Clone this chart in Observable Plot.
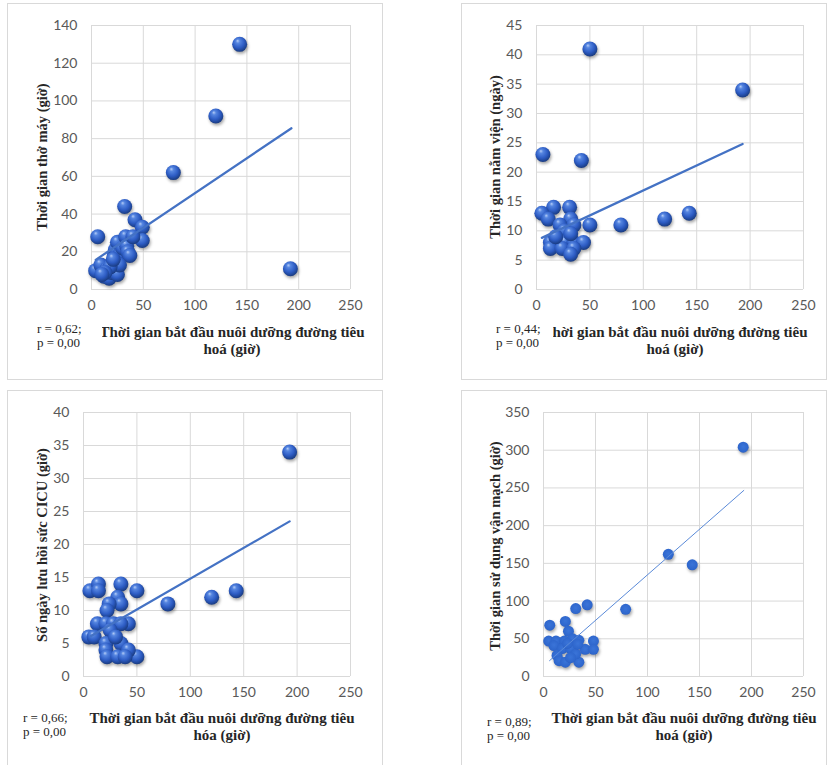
<!DOCTYPE html>
<html>
<head>
<meta charset="utf-8">
<script src="https://cdn.jsdelivr.net/npm/d3@7"></script>
<script src="https://cdn.jsdelivr.net/npm/@observablehq/plot@0.6"></script>
<style>
  html, body { margin: 0; padding: 0; background: #fff; }
  #page { position: relative; width: 829px; height: 765px; overflow: hidden; background: #fff; }
  .frame { position: absolute; border: 1px solid #d9d9d9; box-sizing: border-box; }
  .plotbox { position: absolute; }
  .xtitle { position: absolute; width: 340px; text-align: center; font-family: "Liberation Serif", "Times New Roman", serif; font-weight: bold; font-size: 15px; line-height: 17px; color: #262626; white-space: nowrap; }
  .ytitle { position: absolute; transform: translate(-50%, -50%) rotate(-90deg); font-family: "Liberation Serif", "Times New Roman", serif; font-weight: bold; font-size: 14.5px; color: #262626; white-space: nowrap; }
  .rp { position: absolute; background: #fff; font-family: "Liberation Serif", "Times New Roman", serif; font-size: 13px; line-height: 14px; color: #262626; white-space: nowrap; overflow: hidden; }
</style>
</head>
<body>
<svg width="0" height="0" style="position:absolute">
  <defs>
    <radialGradient id="sphere" cx="0.45" cy="0.4" r="0.62" fx="0.36" fy="0.26">
      <stop offset="0" stop-color="#b4ccf7"/>
      <stop offset="0.22" stop-color="#5585e0"/>
      <stop offset="0.62" stop-color="#2d5cc4"/>
      <stop offset="0.9" stop-color="#1d428f"/>
      <stop offset="1" stop-color="#18377a"/>
    </radialGradient>
    <radialGradient id="flat" cx="0.5" cy="0.45" r="0.6">
      <stop offset="0" stop-color="#3a74d8"/>
      <stop offset="0.8" stop-color="#2e66cc"/>
      <stop offset="1" stop-color="#2858b5"/>
    </radialGradient>
  </defs>
</svg>
<div id="page"></div>
<script>
// ---------- data ----------
const xTicks = [0, 50, 100, 150, 200, 250];

// Panel 1: Thời gian thở máy (giờ)
const p1X = [4, 6, 9, 12, 15, 17, 19, 20, 22, 23, 25, 25, 28, 30, 32, 33, 34, 35, 37, 42, 49, 49, 79, 120, 143, 192, 27, 18, 13, 40, 10, 21];
const p1Y = [10, 28, 13, 7, 11, 6, 9, 14, 18, 21, 8, 25, 19, 22, 44, 28, 23, 20, 18, 37, 33, 26, 62, 92, 130, 11, 13, 12, 9, 28, 8, 16];
const p1TrendX = [4, 193];
const p1TrendY = [15.7, 85.5];
const p1YTicks = [0, 20, 40, 60, 80, 100, 120, 140];

// Panel 2: Thời gian nằm viện (ngày)
const p2X = [6, 42, 50, 79, 120, 143, 193, 16, 31, 5, 11, 32, 22, 35, 50, 26, 13, 19, 27, 35, 44, 13, 24, 35, 32, 18, 32];
const p2Y = [23, 22, 41, 11, 12, 13, 34, 14, 14, 13, 12, 12, 11, 11, 11, 10, 8, 8, 8, 8, 8, 7, 7, 7, 6, 9, 9.5];
const p2TrendX = [5, 193];
const p2TrendY = [8.8, 24.8];
const p2YTicks = [0, 5, 10, 15, 20, 25, 30, 35, 40, 45];

// Panel 3: Số ngày lưu hồi sức CICU
const p3X = [193, 143, 120, 79, 50, 50, 6, 14, 14, 35, 32, 35, 24, 22, 13, 21, 28, 42, 35, 25, 5, 10, 21, 35, 21, 42, 22, 32, 39, 30];
const p3Y = [34, 13, 12, 11, 13, 3, 13, 14, 13, 14, 12, 11, 11, 10, 8, 8, 8, 8, 8, 7, 6, 6, 5, 5, 4, 4, 3, 3, 3, 6];
const p3TrendX = [6.6, 193];
const p3TrendY = [6.1, 23.5];
const p3YTicks = [0, 5, 10, 15, 20, 25, 30, 35, 40];

// Panel 4: Thời gian sử dụng vận mạch (giờ)
const p4X = [192, 120, 143, 79, 42, 31, 6, 21, 24, 5, 12, 20, 28, 34, 48, 10, 40, 48, 18, 26, 13, 15, 21, 34, 31, 26, 23, 33];
const p4Y = [304, 162, 148, 89, 95, 90, 68, 73, 60, 47, 47, 47, 50, 48, 47, 41, 36, 36, 37, 37, 28, 21, 19, 19, 30, 25, 44, 43];
const p4TrendX = [5.8, 192.6];
const p4TrendY = [21, 246.7];
const p4YTicks = [0, 50, 100, 150, 200, 250, 300, 350];

const xTitle1 = "Thời gian bắt đầu nuôi dưỡng đường tiêu";
const panels = [
  { frame: [7, 3, 376, 377], plot: [91, 25, 350, 289], xs: p1X, ys: p1Y, tx: p1TrendX, ty: p1TrendY, yTicks: p1YTicks,
    ytitle: "Thời gian thở máy (giờ)", yc: [42, 157], xt2: "hoá (giờ)", xc: [232, 332],
    r: "r = 0,62;", p: "p = 0,00", rp: [37, 322, 65], flat: false },
  { frame: [461, 3, 366, 377], plot: [536, 25, 803, 289], xs: p2X, ys: p2Y, tx: p2TrendX, ty: p2TrendY, yTicks: p2YTicks,
    ytitle: "Thời gian nằm viện (ngày)", yc: [495, 157], xt2: "hoá (giờ)", xc: [675, 332],
    r: "r = 0,44;", p: "p = 0,00", rp: [496, 322, 57], flat: false },
  { frame: [7, 390, 376, 380], plot: [83, 412, 350, 676], xs: p3X, ys: p3Y, tx: p3TrendX, ty: p3TrendY, yTicks: p3YTicks,
    ytitle: "Số ngày lưu hồi sức CICU (giờ)", yc: [42, 545], xt2: "hóa (giờ)", xc: [222, 718],
    r: "r = 0,66;", p: "p = 0,00", rp: [23, 711, 50], flat: false },
  { frame: [461, 390, 366, 380], plot: [543, 412, 803, 676], xs: p4X, ys: p4Y, tx: p4TrendX, ty: p4TrendY, yTicks: p4YTicks,
    ytitle: "Thời gian sử dụng vận mạch (giờ)", yc: [495, 546], xt2: "hoá (giờ)", xc: [684, 718],
    r: "r = 0,89;", p: "p = 0,00", rp: [487, 715, 50], flat: true }
];

const page = document.getElementById("page");

for (const c of panels) {
  const [fl, ft, fw, fh] = c.frame;
  const [pl, pt, pr, pb] = c.plot;
  const frame = document.createElement("div");
  frame.className = "frame";
  Object.assign(frame.style, { left: fl + "px", top: ft + "px", width: fw + "px", height: fh + "px" });
  page.appendChild(frame);

  const data = c.xs.map((x, i) => ({ x, y: c.ys[i] }));
  const trend = c.tx.map((x, i) => ({ x, y: c.ty[i] }));
  const yMax = c.yTicks[c.yTicks.length - 1];

  const chart = Plot.plot({
    width: fw,
    height: fh,
    marginLeft: pl - fl,
    marginTop: pt - ft,
    marginRight: fl + fw - pr,
    marginBottom: ft + fh - pb,
    style: { fontFamily: "Lato, 'Open Sans', sans-serif", fontSize: "14px", background: "transparent", overflow: "visible" },
    x: { domain: [0, 250] },
    y: { domain: [0, yMax] },
    marks: [
      Plot.gridX(xTicks, { stroke: "#d9d9d9", strokeOpacity: 1 }),
      Plot.gridY(c.yTicks, { stroke: "#d9d9d9", strokeOpacity: 1 }),
      Plot.axisX(xTicks, { tickSize: 0, tickPadding: 11, fill: "#595959", label: null }),
      Plot.axisY(c.yTicks, { tickSize: 0, tickPadding: 14, fill: "#595959", label: null }),
      Plot.dot(data, { x: "x", y: "y", r: c.flat ? 5.5 : 7.5, fill: c.flat ? "url(#flat)" : "url(#sphere)", stroke: "none" }),
      Plot.line(trend, { x: "x", y: "y", stroke: c.flat ? "#5a8ad8" : "#4472c4", strokeWidth: c.flat ? 1 : 2.25 })
    ]
  });
  chart.classList.add("plotbox");
  chart.style.position = "absolute";
  chart.style.left = fl + "px";
  chart.style.top = ft + "px";
  const dotG = chart.querySelector('g[aria-label="dot"]');
  if (dotG) dotG.style.filter = "drop-shadow(1px 2px 1.5px rgba(0,0,0,0.35))";
  page.appendChild(chart);

  const yt = document.createElement("div");
  yt.className = "ytitle";
  yt.textContent = c.ytitle;
  yt.style.left = c.yc[0] + "px";
  yt.style.top = c.yc[1] + "px";
  page.appendChild(yt);

  const xt = document.createElement("div");
  xt.className = "xtitle";
  xt.innerHTML = xTitle1 + "<br>" + c.xt2;
  xt.style.left = (c.xc[0] - 170) + "px";
  xt.style.top = (c.xc[1] - 8.5) + "px";
  page.appendChild(xt);

  const rp = document.createElement("div");
  rp.className = "rp";
  rp.innerHTML = c.r + "<br>" + c.p;
  rp.style.left = c.rp[0] + "px";
  rp.style.top = c.rp[1] + "px";
  rp.style.width = c.rp[2] + "px";
  page.appendChild(rp);
}
</script>
</body>
</html>
